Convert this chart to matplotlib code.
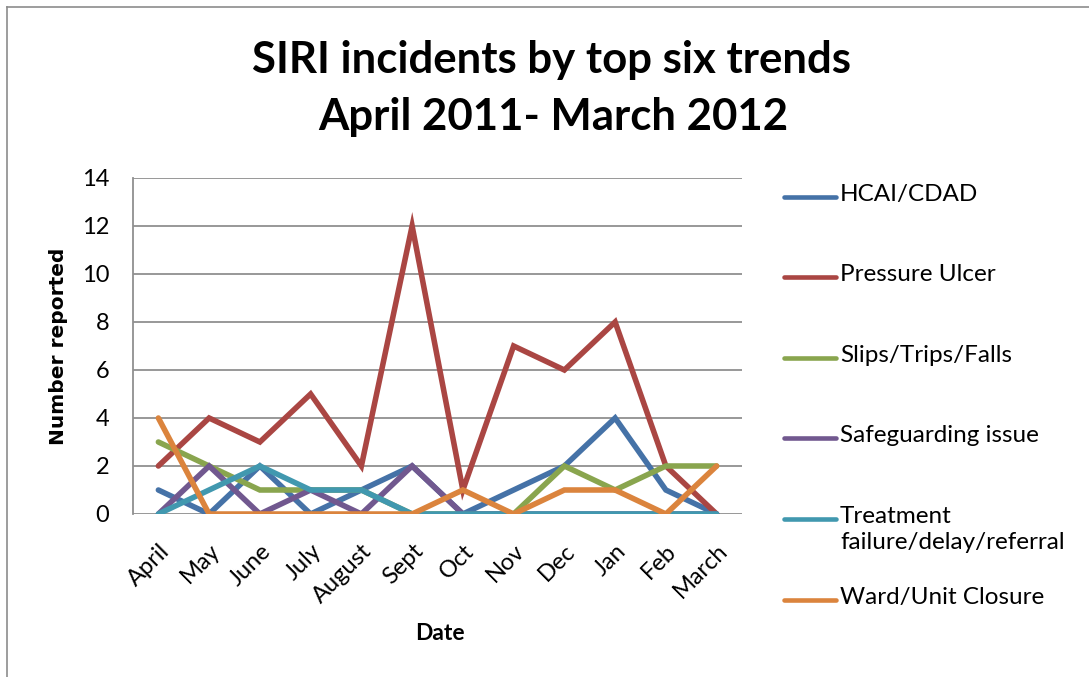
import matplotlib
matplotlib.use("Agg")
import matplotlib.pyplot as plt
from matplotlib.lines import Line2D

plt.rcParams['font.family'] = ['Lato', 'DejaVu Sans']

months = ['April', 'May', 'June', 'July', 'August', 'Sept',
          'Oct', 'Nov', 'Dec', 'Jan', 'Feb', 'March']

hcai = [1, 0, 2, 0, 1, 2, 0, 1, 2, 4, 1, 0]
pressure_ulcer = [2, 4, 3, 5, 2, 12, 1, 7, 6, 8, 2, 0]
slips_falls = [3, 2, 1, 1, 1, 0, 0, 0, 2, 1, 2, 2]
safeguarding = [0, 2, 0, 1, 0, 2, 0, 0, 0, 0, 0, 0]
treatment = [0, 1, 2, 1, 1, 0, 0, 0, 0, 0, 0, 0]
ward_closure = [4, 0, 0, 0, 0, 0, 1, 0, 1, 1, 0, 2]

series_names = ['HCAI/CDAD', 'Pressure Ulcer', 'Slips/Trips/Falls',
                'Safeguarding issue', 'Treatment\nfailure/delay/referral',
                'Ward/Unit Closure']
series_data = [hcai, pressure_ulcer, slips_falls, safeguarding,
               treatment, ward_closure]
colors = ['#4572A7', '#AA4643', '#89A54E', '#71588F', '#4198AF', '#DB843D']

W, H = 1089, 677
fig = plt.figure(figsize=(W / 100, H / 100), dpi=100)

# chart frame (left and top edges only show)
fig.add_artist(Line2D([7 / W, 7 / W], [0, 1 - 7 / H], transform=fig.transFigure,
                      color='#8c8c8c', lw=1.2))
fig.add_artist(Line2D([7 / W, 1], [1 - 7 / H, 1 - 7 / H], transform=fig.transFigure,
                      color='#8c8c8c', lw=1.2))

ax = fig.add_axes([133 / W, 1 - 514 / H, (742 - 133) / W, (514 - 178) / H])
x = list(range(len(months)))
for data, c, name in zip(series_data, colors, series_names):
    ax.plot(x, data, color=c, lw=4, solid_joinstyle='miter',
            solid_capstyle='round', label=name)

ax.set_xlim(-0.5, len(months) - 0.5)
ax.set_ylim(0, 14)
ax.set_yticks(range(0, 15, 2))
ax.set_xticks(x)
ax.set_xticklabels(months, rotation=45, ha='right', va='top',
                   rotation_mode='anchor', fontsize=17)
ax.tick_params(axis='y', length=0, pad=17, labelsize=17)
ax.tick_params(axis='x', length=0, pad=19)
ax.grid(axis='y', color='#909090', lw=1.3)
ax.set_axisbelow(True)
for side in ['top', 'right', 'bottom']:
    ax.spines[side].set_visible(False)
ax.spines['left'].set_color('#909090')
ax.spines['left'].set_linewidth(1.3)

ax.set_ylabel('Number reported', family='DejaVu Sans', fontweight='bold',
              fontsize=14.5, labelpad=10)
fig.text(440 / W, 1 - 633 / H, 'Date', ha='center', va='center',
         fontsize=16.5, fontweight='bold')

fig.text(552 / W, 1 - 60 / H, 'SIRI incidents by top six trends',
         ha='center', va='center', fontsize=31.5, fontweight='bold')
fig.text(553 / W, 1 - 117 / H, 'April 2011- March 2012',
         ha='center', va='center', fontsize=31.5, fontweight='bold')

# legend drawn by hand to keep the Excel spacing
legend_y = [197, 277, 358, 438, 519, 600]
for c, name, ly in zip(colors, series_names, legend_y):
    fig.add_artist(Line2D([784 / W, 836 / W], [1 - ly / H, 1 - ly / H],
                          transform=fig.transFigure, color=c, lw=3.3,
                          solid_capstyle='round'))
    fig.text(840 / W, 1 - (ly - 13) / H, name, ha='left', va='top',
             fontsize=17.5, linespacing=1.3)

fig.savefig('out.png', dpi=100)
